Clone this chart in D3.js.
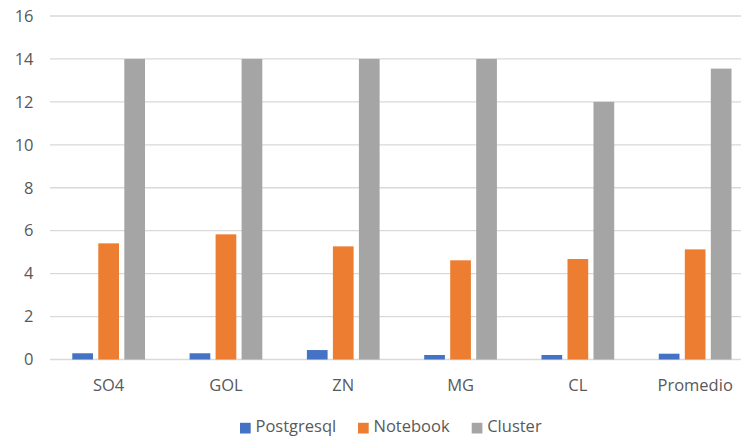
<!DOCTYPE html>
<html>
<head>
<meta charset="utf-8">
<script src="https://cdn.jsdelivr.net/npm/d3@7"></script>
<style>
  html, body { margin: 0; padding: 0; background: #fff; }
  svg { display: block; font-family: "Open Sans", "Noto Sans", sans-serif; }
</style>
</head>
<body>
<svg id="chart" width="741" height="437"></svg>
<script>
const categories = ["SO4", "GOL", "ZN", "MG", "CL", "Promedio"];
const seriesNames = ["Postgresql", "Notebook", "Cluster"];
const postgresql = [0.29, 0.29, 0.44, 0.21, 0.21, 0.27];
const notebook = [5.41, 5.83, 5.27, 4.62, 4.68, 5.13];
const cluster = [14, 14, 14, 14, 12, 13.55];
const yTicks = [0, 2, 4, 6, 8, 10, 12, 14, 16];
const colors = ["#4472C4", "#ED7D31", "#A5A5A5"];

const seriesValues = [postgresql, notebook, cluster];

const svg = d3.select("#chart");
const left = 50, step = 117.3;
const fs = 16.5;
const x0 = d3.scaleBand().domain(categories).range([left, left + step * categories.length]).padding(0);
const x1 = d3.scaleBand().domain(seriesNames).range([0, x0.bandwidth()]).paddingInner(0.204).paddingOuter(0.857);
const y = d3.scaleLinear().domain([0, 16]).range([359.5, 16]);

// gridlines
svg.append("g").selectAll("line").data(yTicks).join("line")
  .attr("x1", left).attr("x2", 741)
  .attr("y1", d => y(d)).attr("y2", d => y(d))
  .attr("stroke", "#d9d9d9").attr("stroke-width", 1.3);

// y labels
svg.append("g").selectAll("text").data(yTicks).join("text")
  .attr("x", 33.5).attr("y", d => y(d)).attr("dy", "0.35em")
  .attr("text-anchor", "end").attr("fill", "#595959").attr("font-size", fs)
  .text(d => d);

// bars
const groups = svg.append("g").selectAll("g").data(categories).join("g")
  .attr("transform", c => `translate(${x0(c)},0)`);
groups.selectAll("rect").data((c, i) => seriesNames.map((s, j) => ({s, v: seriesValues[j][i], j})))
  .join("rect")
  .attr("x", d => x1(d.s)).attr("width", x1.bandwidth())
  .attr("y", d => y(d.v)).attr("height", d => y(0) - y(d.v))
  .attr("fill", d => colors[d.j]);

// x labels
svg.append("g").selectAll("text").data(categories).join("text")
  .attr("x", c => x0(c) + x0.bandwidth() / 2).attr("y", 385).attr("dy", "0.35em")
  .attr("text-anchor", "middle").attr("fill", "#595959").attr("font-size", fs)
  .text(c => c);

// legend
const legendX = [240, 358, 471.7];
const leg = svg.append("g").selectAll("g").data(seriesNames).join("g")
  .attr("transform", (d, i) => `translate(${legendX[i]},0)`);
leg.append("rect").attr("x", 0).attr("y", 422.8).attr("width", 10.7).attr("height", 10.7)
  .attr("fill", (d, i) => colors[i]);
leg.append("text").attr("x", 15.5).attr("y", 425.8).attr("dy", "0.35em")
  .attr("fill", "#595959").attr("font-size", fs).text(d => d);
</script>
</body>
</html>
